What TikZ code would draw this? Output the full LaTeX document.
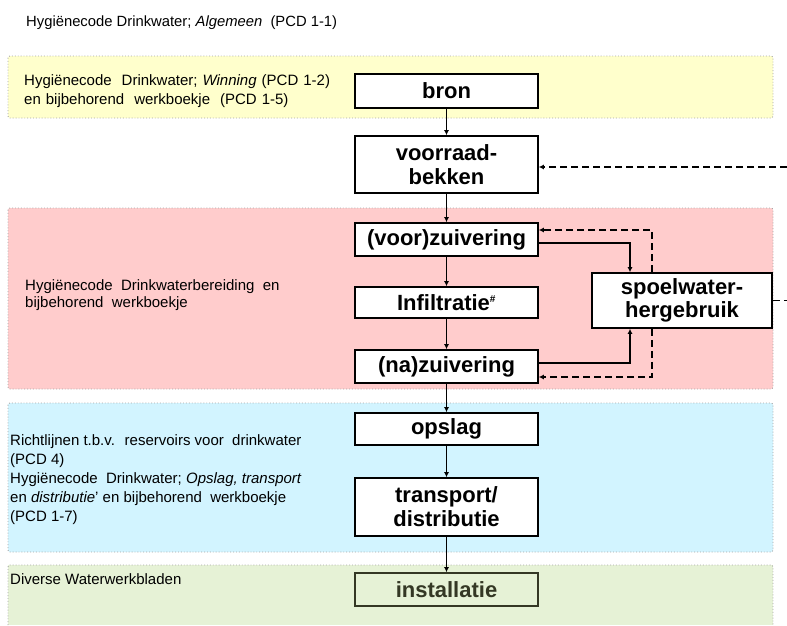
\documentclass[tikz,border=0pt]{standalone}
\usepackage{fontspec}
\setmainfont{Liberation Sans}
\usetikzlibrary{arrows.meta,positioning}

\definecolor{zoneyellow}{RGB}{255,255,204}
\definecolor{zonepink}{RGB}{255,204,204}
\definecolor{zoneblue}{RGB}{210,244,255}
\definecolor{zonegreen}{RGB}{230,242,214}
\definecolor{installgrey}{RGB}{52,56,36}

\tikzset{
    zone/.style={draw=gray!70, dotted, line width=0.9pt, rounded corners=2pt},
    stage/.style={draw, line width=1.6pt, fill=white, minimum width=183pt, inner sep=0pt,
        align=center, font=\bfseries\fontsize{22}{24}\selectfont},
    note/.style={anchor=west, inner sep=0pt, align=left, font=\fontsize{15}{18.5}\selectfont},
    flow/.style={line width=1.5pt, -{Latex[length=5pt,width=5pt]}},
    retour/.style={flow, dash pattern=on 7pt off 4pt}
}

\begin{document}
\begin{tikzpicture}[x=1pt,y=-1pt]
    \useasboundingbox (0,0) rectangle (787,625);

    % zones
    \draw[zone, fill=zoneyellow] (8,56) rectangle (773,118);
    \draw[zone, fill=zonepink] (8,208) rectangle (773,389);
    \draw[zone, fill=zoneblue] (8,403) rectangle (773,552);
    \fill[zonegreen] (8,565) rectangle (773,625);
    \draw[zone] (8,625) |- (773,565) -- (773,625);

    \node[note, font=\fontsize{14.8}{17}\selectfont] (titel) at (26,23)
        {Hygiënecode Drinkwater; \textit{Algemeen}~ (PCD 1-1)};

    \node[note, font={\fontsize{15}{18.5}\selectfont\spaceskip=5pt plus 1pt}] (winning) at (24,91)
        {Hygiënecode~ Drinkwater; \textit{Winning} (PCD 1-2)\\en bijbehorend~ werkboekje~ (PCD 1-5)};
    \node[note, font=\fontsize{15}{17}\selectfont] (bereiding) at (25,295.5)
        {Hygiënecode~ Drinkwaterbereiding~ en\\bijbehorend~ werkboekje};
    \node[note, font=\fontsize{15}{19}\selectfont] (opslagnote) at (10,480)
        {Richtlijnen t.b.v.~ reservoirs voor~ drinkwater\\(PCD 4)\\Hygiënecode~ Drinkwater; \textit{Opslag, transport}\\en \textit{distributie}' en bijbehorend~ werkboekje\\(PCD 1-7)};
    \node[note] (bladen) at (10,579) {Diverse Waterwerkbladen};

    % stages
    \node[stage, minimum height=34pt] (bron) at (446.5,91) {bron};
    \node[stage, minimum height=57pt] (voorraad) at (446.5,164.5) {voorraad-\\bekken};
    \node[stage, minimum height=33pt] (voor) at (446.5,239.5) {(voor)zuivering};
    \node[stage, minimum height=31pt] (infil) at (446.5,302.5) {Infiltratie\textsuperscript{\fontsize{10}{10}\selectfont\#}};
    \node[stage, minimum height=33pt] (na) at (446.5,366.5) {(na)zuivering};
    \node[stage, minimum height=55pt, minimum width=180pt, font=\bfseries\fontsize{22}{23}\selectfont] (spoel) at (682,300.5) {spoelwater-\\hergebruik};
    \node[stage, minimum height=32pt] (opslag) at (446.5,429) {opslag};
    \node[stage, minimum height=58pt] (transport) at (446.5,507) {transport/\\distributie};
    \node[stage, minimum height=33pt, fill=none, draw=installgrey, text=installgrey] (install) at (446.5,589.5) {installatie};

    \coordinate (terug) at (787,167);
    \coordinate (afvoer) at (787,300.5);

    % main line
    \draw[flow] (bron) -- (voorraad);
    \draw[flow] (voorraad) -- (voor);
    \draw[flow] (voor) -- (infil);
    \draw[flow] (infil) -- (na);
    \draw[flow] (na) -- (opslag);
    \draw[flow] (opslag) -- (transport);
    \draw[flow] (transport) -- (install);

    % spoelwater
    \draw[flow] ([yshift=-3.5pt]voor.east) -| ([xshift=-52pt]spoel.north);
    \draw[flow] ([yshift=3.5pt]na.east) -| ([xshift=-52pt]spoel.south);
    \draw[retour] ([xshift=-30pt]spoel.north) |- ([yshift=9.5pt]voor.east);
    \draw[retour] ([xshift=-30pt]spoel.south) |- ([yshift=-10.5pt]na.east);
    \draw[retour, -] (spoel.east) -- (afvoer);
    \draw[retour] (terug) -- (terug -| voorraad.east);
\end{tikzpicture}
\end{document}
